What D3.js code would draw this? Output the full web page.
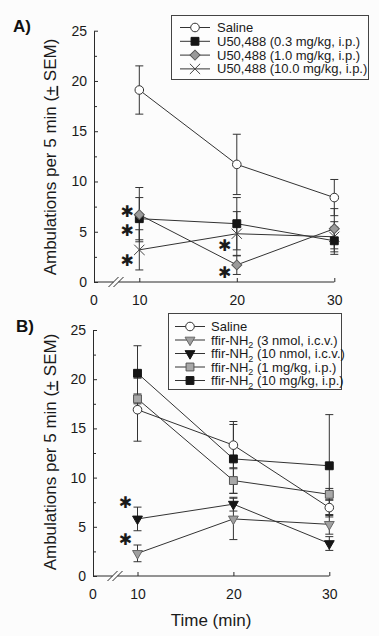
<!DOCTYPE html>
<html><head><meta charset="utf-8">
<script src="https://cdn.jsdelivr.net/npm/d3@7"></script>
<style>
body{margin:0;background:#fcfcfc;}
svg{display:block;font-family:"Liberation Sans",Arial,Helvetica,sans-serif;}
</style></head><body>
<svg id="chart" width="379" height="636"></svg>
<script>
// ---------------- DATA ----------------
const times = [10, 20, 30];
const xTickValues = [10, 20, 30];
const xOriginLabel = "0";
const yTicks = [0, 5, 10, 15, 20, 25];
const yMinorTicks = [2.5, 7.5, 12.5, 17.5, 22.5];
const yTitle = ["Ambulations per 5 min (", "+", " SEM)"];
const xTitle = "Time (min)";

// Panel A
const labelsA = ["Saline", "U50,488 (0.3 mg/kg, i.p.)", "U50,488 (1.0 mg/kg, i.p.)", "U50,488 (10.0 mg/kg, i.p.)"];
const salineA = [19.1, 11.7, 8.4];
const salineA_sem = [2.4, 3.0, 1.8];
const u03 = [6.3, 5.8, 4.1];
const u03_sem = [2.1, 2.6, 1.35];
const u10 = [6.7, 1.7, 5.3];
const u10_sem = [2.7, 0.95, 2.0];
const u100 = [3.2, 4.8, 4.5];
const u100_sem = [2.0, 2.2, 1.5];
const starsA_time = [10, 10, 10, 20, 20];
const starsA_value = [7.0, 5.1, 2.1, 3.6, 0.95];

// Panel B
const labelsB = ["Saline", "ffir-NH₂ (3 nmol, i.c.v.)", "ffir-NH₂ (10 nmol, i.c.v.)", "ffir-NH₂ (1 mg/kg, i.p.)", "ffir-NH₂ (10 mg/kg, i.p.)"];
const salineB = [16.9, 13.3, 6.95];
const salineB_sem = [3.2, 2.4, 0.8];
const n3 = [2.3, 5.8, 5.25];
const n3_sem = [0.85, 2.1, 1.0];
const n10 = [5.8, 7.3, 3.3];
const n10_sem = [1.2, 0.7, 0.7];
const mg1 = [18.0, 9.7, 8.3];
const mg1_sem = [0.5, 1.3, 0.6];
const mg10 = [20.6, 11.9, 11.2];
const mg10_sem = [2.8, 3.5, 5.2];
const starsB_time = [10, 10];
const starsB_value = [7.5, 3.66];

// ---------------- STYLES ----------------
const INK = "#2a2a2a";
const mk = {
  circle:  {type: d3.symbolCircle,   size: 58, fill: "#ffffff", stroke: "#333", rot: 0, sw: 1},
  blacksq: {type: d3.symbolSquare,   size: 62, fill: "#151515", stroke: "#151515", rot: 0, sw: 1},
  greysq:  {type: d3.symbolSquare,   size: 62, fill: "#a8a8a8", stroke: "#555", rot: 0, sw: 1},
  diamond: {type: d3.symbolSquare,   size: 50, fill: "#9a9a9a", stroke: "#555", rot: 45, sw: 1},
  cross:   {type: d3.symbolTimes,    size: 70, fill: "none",    stroke: "#444", rot: 0, sw: 1},
  greytri: {type: d3.symbolTriangle, size: 42, fill: "#a0a0a0", stroke: "#666", rot: 180, sw: 1},
  blacktri:{type: d3.symbolTriangle, size: 42, fill: "#151515", stroke: "#151515", rot: 180, sw: 1}
};

const panels = [
  {
    letter: "A)", letterX: 13, letterY: 32,
    originX: 94, x10: 139.3, x30: 334.3, y0: 282, y25: 30.7,
    titleY: 157,
    series: [
      {label: labelsA[0], v: salineA, e: salineA_sem, m: mk.circle},
      {label: labelsA[1], v: u03, e: u03_sem, m: mk.blacksq},
      {label: labelsA[2], v: u10, e: u10_sem, m: mk.diamond},
      {label: labelsA[3], v: u100, e: u100_sem, m: mk.cross}
    ],
    drawOrder: [3, 1, 2, 0],
    stars: {t: starsA_time, v: starsA_value},
    legend: {x: 171, y: 15, w: 197, h: 64, row0: 32, step: 13.8, lx1: 180, lx2: 210, tx: 217}
  },
  {
    letter: "B)", letterX: 16, letterY: 332,
    originX: 93, x10: 137.5, x30: 329.3, y0: 576, y25: 330,
    titleY: 452,
    series: [
      {label: labelsB[0], v: salineB, e: salineB_sem, m: mk.circle},
      {label: labelsB[1], v: n3, e: n3_sem, m: mk.greytri},
      {label: labelsB[2], v: n10, e: n10_sem, m: mk.blacktri},
      {label: labelsB[3], v: mg1, e: mg1_sem, m: mk.greysq},
      {label: labelsB[4], v: mg10, e: mg10_sem, m: mk.blacksq}
    ],
    drawOrder: [1, 2, 3, 0, 4],
    stars: {t: starsB_time, v: starsB_value},
    legend: {x: 168, y: 313, w: 173, h: 76, row0: 331, step: 13.5, lx1: 175, lx2: 205, tx: 211}
  }
];

const svg = d3.select("#chart");

function drawMarker(g, m, x, y) {
  g.append("path")
    .attr("d", d3.symbol().type(m.type).size(m.size)())
    .attr("transform", `translate(${x},${y}) rotate(${m.rot})`)
    .attr("fill", m.fill).attr("stroke", m.stroke).attr("stroke-width", m.sw);
}

function addLabel(textSel, label) {
  const parts = label.split("₂");
  if (parts.length === 1) { textSel.text(label); return; }
  textSel.append("tspan").text(parts[0]);
  textSel.append("tspan").attr("font-size", 9).attr("dy", 3.5).text("2");
  textSel.append("tspan").attr("dy", -3.5).text(parts[1]);
}

panels.forEach(p => {
  const g = svg.append("g");
  const x = d3.scaleLinear().domain([10, 30]).range([p.x10, p.x30]);
  const y = d3.scaleLinear().domain([0, 25]).range([p.y0, p.y25]);

  // panel letter
  g.append("text").attr("x", p.letterX).attr("y", p.letterY)
    .attr("font-size", 17).attr("font-weight", "bold").attr("fill", "#111").text(p.letter);

  // y axis
  const ya = g.append("g").attr("transform", `translate(${p.originX},0)`)
    .call(d3.axisLeft(y).tickValues(yTicks).tickSizeInner(-4).tickSizeOuter(0).tickPadding(7));
  ya.select(".domain").attr("stroke", INK);
  ya.selectAll(".tick line").attr("stroke", INK);
  ya.selectAll("text").attr("font-size", 14).attr("fill", "#1a1a1a")
    .attr("font-family", "'Liberation Sans',Arial,sans-serif");
  const ym = g.append("g").attr("transform", `translate(${p.originX},0)`)
    .call(d3.axisLeft(y).tickValues(yMinorTicks).tickSizeInner(-3).tickSizeOuter(0).tickFormat(""));
  ym.select(".domain").remove();
  ym.selectAll(".tick line").attr("stroke", INK);

  // x axis
  const xa = g.append("g").attr("transform", `translate(0,${p.y0})`)
    .call(d3.axisBottom(x).tickValues(xTickValues).tickSizeInner(-4).tickSizeOuter(0).tickPadding(13));
  xa.select(".domain").remove();
  xa.selectAll(".tick line").attr("stroke", INK);
  xa.selectAll("text").attr("font-size", 14).attr("fill", "#1a1a1a")
    .attr("font-family", "'Liberation Sans',Arial,sans-serif");
  xa.append("text").attr("x", p.originX).attr("y", 13).attr("dy", "0.71em")
    .attr("text-anchor", "middle").attr("font-size", 14).attr("fill", "#1a1a1a").text(xOriginLabel);
  // axis line with break
  const bx = p.originX + 22;
  g.append("line").attr("x1", p.originX).attr("x2", bx - 2.5).attr("y1", p.y0).attr("y2", p.y0).attr("stroke", INK);
  g.append("line").attr("x1", bx + 2.5).attr("x2", p.x30).attr("y1", p.y0).attr("y2", p.y0).attr("stroke", INK);
  [-2.5, 2.5].forEach(d => {
    g.append("line").attr("x1", bx + d - 5).attr("y1", p.y0 + 5).attr("x2", bx + d + 5).attr("y2", p.y0 - 5)
      .attr("stroke", INK).attr("stroke-width", 1);
  });

  // y title
  const yt = g.append("text")
    .attr("transform", `translate(55.5,${p.titleY}) rotate(-90)`)
    .attr("text-anchor", "middle").attr("font-size", 17).attr("fill", "#1a1a1a");
  yt.append("tspan").text(yTitle[0]);
  yt.append("tspan").attr("text-decoration", "underline").text(yTitle[1]);
  yt.append("tspan").text(yTitle[2]);

  // lines and error bars
  const line = d3.line().x((d, i) => x(times[i])).y(d => y(d));
  p.drawOrder.forEach(si => {
    const s = p.series[si];
    g.append("path").attr("d", line(s.v)).attr("fill", "none").attr("stroke", "#333").attr("stroke-width", 1);
    s.v.forEach((v, i) => {
      const cx = x(times[i]);
      const lo = y(v - s.e[i]), hi = y(v + s.e[i]);
      g.append("line").attr("x1", cx).attr("x2", cx).attr("y1", lo).attr("y2", hi).attr("stroke", "#333");
      [lo, hi].forEach(yy => g.append("line").attr("x1", cx - 4).attr("x2", cx + 4)
        .attr("y1", yy).attr("y2", yy).attr("stroke", "#333"));
    });
  });
  // markers
  p.drawOrder.forEach(si => {
    const s = p.series[si];
    s.v.forEach((v, i) => drawMarker(g, s.m, x(times[i]), y(v)));
  });

  // significance stars
  p.stars.t.forEach((t, i) => {
    g.append("text").attr("x", x(t) - 12).attr("y", y(p.stars.v[i]))
      .attr("text-anchor", "middle").attr("dominant-baseline", "central")
      .attr("font-family", "'DejaVu Sans',sans-serif").attr("font-size", 16).attr("fill", "#1a1a1a")
      .text("✱");
  });

  // legend
  const L = p.legend;
  g.append("rect").attr("x", L.x + 0.5).attr("y", L.y + 0.5).attr("width", L.w).attr("height", L.h)
    .attr("fill", "#fdfdfd").attr("stroke", "#444").attr("stroke-width", 1);
  p.series.forEach((s, i) => {
    const by = L.row0 + i * L.step;
    const cy = by - 4.5;
    g.append("line").attr("x1", L.lx1).attr("x2", L.lx2).attr("y1", cy).attr("y2", cy).attr("stroke", "#333");
    drawMarker(g, s.m, (L.lx1 + L.lx2) / 2, cy);
    const t = g.append("text").attr("x", L.tx).attr("y", by).attr("font-size", 13).attr("fill", "#1a1a1a");
    addLabel(t, s.label);
  });
});

// x title
svg.append("text").attr("x", 211).attr("y", 626).attr("text-anchor", "middle")
  .attr("font-size", 17).attr("fill", "#1a1a1a").text(xTitle);
</script>
</body></html>
